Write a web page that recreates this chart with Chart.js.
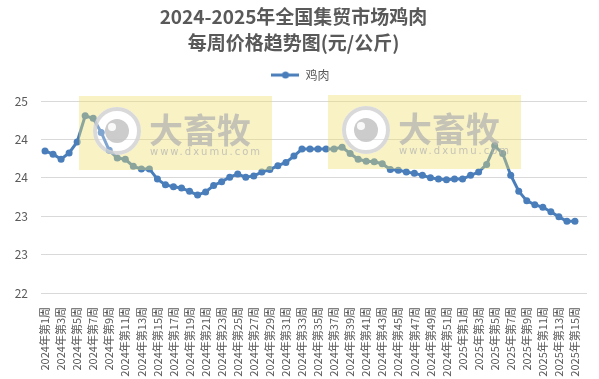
<!DOCTYPE html>
<html>
<head>
<meta charset="utf-8">
<script src="https://cdn.jsdelivr.net/npm/chart.js@4.4.0/dist/chart.umd.min.js"></script>
<style>
  html, body { margin: 0; padding: 0; background: #fff; }
  #wrap { width: 599px; height: 379px; }
</style>
</head>
<body>
<div id="wrap"><canvas id="chart"></canvas></div>
<script>
// Categories: weeks of 2024 and 2025
const weeks2024 = 52;
const weeks2025 = 16;
const labels = [];
for (let w = 1; w <= weeks2024; w++) labels.push('2024年第' + w + '周');
for (let w = 1; w <= weeks2025; w++) labels.push('2025年第' + w + '周');

// 2024 weekly prices (元/公斤)
const prices2024 = [
    24.22, 24.17, 24.09, 24.19, 24.36, 24.77, 24.73, 24.51, 24.23, 24.11,
    24.09, 23.98, 23.94, 23.94, 23.78, 23.69, 23.66, 23.64, 23.59, 23.53,
    23.58, 23.68, 23.74, 23.81, 23.86, 23.81, 23.83, 23.89, 23.93, 23.99,
    24.04, 24.14, 24.25, 24.25, 24.25, 24.25, 24.25, 24.28, 24.18, 24.09,
    24.06, 24.05, 24.02, 23.93, 23.92, 23.89, 23.87, 23.84, 23.80, 23.78,
    23.77, 23.78
];
// 2025 weekly prices, week 16 not yet published
const prices2025 = [
    23.78, 23.84, 23.89, 24.01, 24.30, 24.18, 23.84, 23.59, 23.44, 23.38,
    23.34, 23.27, 23.19, 23.12, 23.12, null
];
const prices = prices2024.concat(prices2025);

// y axis ticks (shown rounded, like the original)
const yTicks = [22, 22.6, 23.2, 23.8, 24.4, 25];

const LINE_COLOR = '#4a7ebb';
const TEXT_COLOR = '#595959';
const FONT = '"Noto Sans CJK SC", "Noto Sans", sans-serif';

// legend symbol: line with a dot
function legendSymbol() {
    const c = document.createElement('canvas');
    c.width = 28;
    c.height = 8;
    const g = c.getContext('2d');
    g.strokeStyle = LINE_COLOR;
    g.lineWidth = 3;
    g.beginPath();
    g.moveTo(0, 4);
    g.lineTo(28, 4);
    g.stroke();
    g.fillStyle = LINE_COLOR;
    g.beginPath();
    g.arc(14, 4, 3.5, 0, Math.PI * 2);
    g.fill();
    return c;
}

// "大畜牧" watermark boxes drawn over the plot
function drawWatermark(ctx, x, y) {
    const w = 193, h = 74;
    const cx = x + 38, cy = y + 35, r = 22;
    ctx.save();
    ctx.beginPath();
    ctx.rect(x, y, w, h);
    ctx.arc(cx, cy, r + 2, 0, Math.PI * 2);
    ctx.fillStyle = 'rgba(238, 222, 110, 0.4)';
    ctx.fill('evenodd');

    ctx.beginPath();
    ctx.arc(cx, cy, r, 0, Math.PI * 2);
    ctx.fillStyle = 'rgba(255, 255, 255, 0.3)';
    ctx.fill();
    ctx.lineWidth = 4;
    ctx.strokeStyle = 'rgba(210, 210, 210, 0.85)';
    ctx.stroke();

    ctx.beginPath();
    ctx.arc(cx, cy, 12, 0, Math.PI * 2);
    ctx.fillStyle = 'rgba(195, 195, 195, 0.85)';
    ctx.fill();
    ctx.beginPath();
    ctx.arc(cx - 5, cy - 4, 4, 0, Math.PI * 2);
    ctx.fillStyle = 'rgba(255, 255, 255, 0.9)';
    ctx.fill();

    ctx.fillStyle = 'rgba(175, 175, 175, 0.7)';
    ctx.textAlign = 'left';
    ctx.textBaseline = 'middle';
    ctx.font = 'bold 34px ' + FONT;
    ctx.fillText('大畜牧', x + 70, y + 34);
    ctx.font = '10px "DejaVu Sans", sans-serif';
    ctx.letterSpacing = '2px';
    ctx.fillText('www.dxumu.com', x + 71, y + 56);
    ctx.restore();
}

const watermarkPlugin = {
    id: 'watermark',
    afterDatasetsDraw(chart) {
        drawWatermark(chart.ctx, 79, 96);
        drawWatermark(chart.ctx, 328, 95);
    }
};

// leave a gap under the legend and nudge it right
const legendGapPlugin = {
    id: 'legendGap',
    beforeInit(chart) {
        const fit = chart.legend.fit;
        chart.legend.fit = function () {
            fit.call(this);
            this.height += 10;
            if (this.lineWidths && this.lineWidths.length) {
                this.lineWidths[0] -= 14;
            }
        };
    }
};

new Chart(document.getElementById('chart'), {
    type: 'line',
    data: {
        labels: labels,
        datasets: [{
            label: '鸡肉',
            data: prices,
            borderColor: LINE_COLOR,
            backgroundColor: LINE_COLOR,
            borderWidth: 3,
            pointRadius: 3.5,
            pointBackgroundColor: LINE_COLOR,
            pointBorderColor: LINE_COLOR,
            pointBorderWidth: 0,
            tension: 0,
            spanGaps: false
        }]
    },
    options: {
        responsive: true,
        maintainAspectRatio: false,
        animation: false,
        layout: {
            padding: { top: 0, left: 0, right: 12, bottom: 0 }
        },
        plugins: {
            title: {
                display: true,
                text: ['2024-2025年全国集贸市场鸡肉', '每周价格趋势图(元/公斤)'],
                color: TEXT_COLOR,
                font: { family: FONT, size: 19, weight: 'bold', lineHeight: 1.37 },
                padding: { top: 4, bottom: 3 }
            },
            legend: {
                display: true,
                position: 'top',
                labels: {
                    usePointStyle: true,
                    pointStyleWidth: 28,
                    color: TEXT_COLOR,
                    font: { family: FONT, size: 12 },
                    generateLabels: (chart) => [{
                        text: '鸡肉',
                        pointStyle: legendSymbol(),
                        fontColor: TEXT_COLOR,
                        datasetIndex: 0,
                        lineWidth: 0,
                        strokeStyle: LINE_COLOR,
                        fillStyle: LINE_COLOR
                    }]
                }
            },
            tooltip: { enabled: false }
        },
        scales: {
            x: {
                offset: true,
                grid: { display: false },
                border: { display: false },
                ticks: {
                    autoSkip: false,
                    maxRotation: 90,
                    minRotation: 90,
                    padding: 6,
                    color: TEXT_COLOR,
                    font: { family: FONT, size: 11 },
                    callback: function (value, index) {
                        return index % 2 === 0 ? this.getLabelForValue(value) : '';
                    }
                },
                afterFit: (scale) => {
                    scale.height = 86;
                    scale.paddingLeft = 0;
                    scale.paddingRight = 0;
                }
            },
            y: {
                min: 22,
                max: 25,
                grid: { color: '#d9d9d9', drawTicks: false },
                border: { display: false },
                ticks: {
                    padding: 13,
                    color: TEXT_COLOR,
                    font: { family: FONT, size: 12 },
                    callback: (value) => Math.round(value)
                },
                afterBuildTicks: (scale) => {
                    scale.ticks = yTicks.map(v => ({ value: v }));
                },
                afterFit: (scale) => { scale.width = 41; }
            }
        }
    },
    plugins: [watermarkPlugin, legendGapPlugin]
});
</script>
</body>
</html>
